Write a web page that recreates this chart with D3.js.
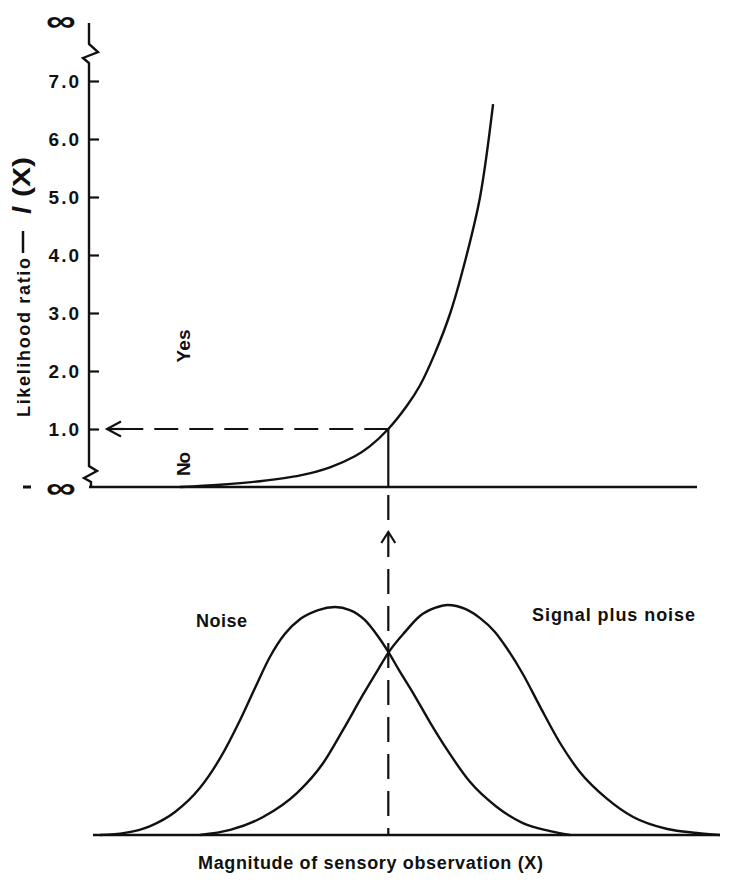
<!DOCTYPE html>
<html>
<head>
<meta charset="utf-8">
<script src="https://cdn.jsdelivr.net/npm/d3@7"></script>
<style>
  html, body { margin: 0; padding: 0; background: #fff; }
  svg { display: block; }
  text { font-family: "Liberation Sans", Arial, sans-serif; font-weight: bold; fill: #111; }
</style>
</head>
<body>
<svg id="chart" width="737" height="882"></svg>
<script>
// ---------------- data ----------------
// x: magnitude of sensory observation, arbitrary units 0..100
const lrX = [12.9, 19.4, 25.8, 32.3, 37.1, 41.1, 43.5, 46.5, 49.5, 51.6, 54.0, 56.5, 58.9, 61.3, 63.4];
const lrY = [0.00, 0.04, 0.10, 0.20, 0.34, 0.53, 0.70, 1.00, 1.40, 1.75, 2.30, 3.00, 3.90, 5.00, 6.60];

const noiseX = [0.0, 4.0, 8.1, 12.1, 16.1, 19.4, 22.6, 25.0, 27.4, 29.8, 32.3, 35.2, 37.9, 40.3, 42.7, 44.8, 46.5, 48.4, 50.5, 53.2, 56.0, 59.7, 64.0, 68.2, 72.6, 75.8];
const noiseY = [0.0, 0.009, 0.039, 0.100, 0.204, 0.335, 0.500, 0.639, 0.774, 0.874, 0.939, 0.978, 0.991, 0.978, 0.935, 0.865, 0.796, 0.709, 0.617, 0.491, 0.370, 0.230, 0.122, 0.052, 0.017, 0.0];

const signalX = [16.1, 21.0, 26.3, 31.8, 36.0, 39.2, 42.4, 44.8, 46.6, 49.2, 51.6, 54.0, 56.1, 58.9, 61.3, 63.7, 65.6, 68.2, 71.0, 74.2, 77.4, 81.8, 86.0, 91.5, 96.3, 100.0];
const signalY = [0.0, 0.022, 0.078, 0.183, 0.313, 0.457, 0.609, 0.717, 0.796, 0.883, 0.952, 0.987, 1.0, 0.983, 0.943, 0.883, 0.813, 0.700, 0.557, 0.400, 0.274, 0.157, 0.078, 0.026, 0.009, 0.0];

const criterionX = 46.5;   // where the two densities cross
const criterionLR = 1.0;   // likelihood ratio at the criterion

const tickValues = [1, 2, 3, 4, 5, 6, 7];
const tickLabels = ["1.0", "2.0", "3.0", "4.0", "5.0", "6.0", "7.0"];

const yLabel = "Likelihood ratio";
const xLabel = "Magnitude of sensory observation (X)";
const noiseLabel = "Noise";
const signalLabel = "Signal plus noise";

// ---------------- layout ----------------
const svg = d3.select("#chart");
const x = d3.scaleLinear().domain([0, 100]).range([100, 720]);
const yTop = d3.scaleLinear().domain([0, 7]).range([487, 81]);
const yBot = d3.scaleLinear().domain([0, 1]).range([835, 605]);

const axisX = 89;
const ink = "#111";
const lw = 2.4;

// ---------- top panel: y axis ----------
const yAxis = d3.axisLeft(yTop)
  .tickValues(tickValues)
  .tickFormat((d, i) => tickLabels[i])
  .tickSize(-10)
  .tickPadding(8);

const gAxis = svg.append("g").attr("transform", `translate(${axisX},0)`).call(yAxis);
gAxis.select(".domain").remove();
gAxis.selectAll(".tick line").attr("stroke", ink).attr("stroke-width", 2.2);
gAxis.selectAll(".tick text")
  .attr("font-family", "DejaVu Sans, sans-serif")
  .attr("font-weight", "normal")
  .attr("font-size", 19)
  .attr("fill", ink)
  .attr("dy", "0.55em")
  .attr("y", -4)
  .style("letter-spacing", "2px");

// axis line with breaks
svg.append("path")
  .attr("d", `M${axisX},23 L${axisX},44 L98,52 L83,58 L${axisX},63 L${axisX},466 L97,471 L84,478 L${axisX + 2},482 L${axisX + 2},487`)
  .attr("fill", "none").attr("stroke", ink).attr("stroke-width", lw).attr("stroke-linejoin", "miter");

// top baseline
svg.append("line").attr("x1", axisX).attr("x2", 697).attr("y1", yTop(0)).attr("y2", yTop(0))
  .attr("stroke", ink).attr("stroke-width", lw);

// infinity symbols
svg.append("text").attr("transform", "translate(61,31) scale(1.4,1)").attr("text-anchor", "middle")
  .attr("font-family", "DejaVu Sans, sans-serif").attr("font-size", 30).text("∞");
svg.append("text").attr("transform", `translate(61,${yTop(0) + 11}) scale(1.4,1)`).attr("text-anchor", "middle")
  .attr("font-family", "DejaVu Sans, sans-serif").attr("font-size", 30).text("∞");
svg.append("line").attr("x1", 23).attr("x2", 31).attr("y1", yTop(0)).attr("y2", yTop(0))
  .attr("stroke", ink).attr("stroke-width", 3);

// y label (rotated)
const yl = svg.append("g").attr("transform", "translate(30,0)");
yl.append("text").attr("transform", "translate(0,417) rotate(-90)")
  .attr("font-size", 18).attr("textLength", 159).attr("lengthAdjust", "spacing").text(yLabel);
yl.append("line").attr("x1", -7).attr("x2", -7).attr("y1", 231).attr("y2", 253)
  .attr("stroke", ink).attr("stroke-width", 2.5);
yl.append("text").attr("transform", "translate(1,214) rotate(-90)")
  .attr("font-family", "Liberation Serif, serif").attr("font-style", "italic").attr("font-weight", "normal")
  .attr("font-size", 26).text("l");
yl.append("text").attr("transform", "translate(0,197) rotate(-90)")
  .attr("font-weight", "normal").attr("font-size", 24).attr("textLength", 40).attr("lengthAdjust", "spacingAndGlyphs").text("(X)");

// Yes / No labels
svg.append("text").attr("transform", "translate(190,346) rotate(-90)").attr("text-anchor", "middle")
  .attr("font-size", 19).attr("textLength", 33).attr("lengthAdjust", "spacing").text("Yes");
svg.append("text").attr("transform", "translate(190,464) rotate(-90)").attr("text-anchor", "middle")
  .attr("font-size", 19).attr("textLength", 24).attr("lengthAdjust", "spacing").text("No");

// likelihood ratio curve
const lrData = lrX.map((d, i) => [d, lrY[i]]);
svg.append("path").datum(lrData)
  .attr("d", d3.line().x(d => x(d[0])).y(d => yTop(d[1])).curve(d3.curveCatmullRom.alpha(0.5)))
  .attr("fill", "none").attr("stroke", ink).attr("stroke-width", lw);

// ---------- bottom panel ----------
svg.append("line").attr("x1", 93).attr("x2", 720).attr("y1", yBot(0)).attr("y2", yBot(0))
  .attr("stroke", ink).attr("stroke-width", lw);

const dens = d3.line().x(d => x(d[0])).y(d => yBot(d[1])).curve(d3.curveMonotoneX);
svg.append("path").datum(noiseX.map((d, i) => [d, noiseY[i]]))
  .attr("d", dens).attr("fill", "none").attr("stroke", ink).attr("stroke-width", lw);
svg.append("path").datum(signalX.map((d, i) => [d, signalY[i]]))
  .attr("d", dens).attr("fill", "none").attr("stroke", ink).attr("stroke-width", lw);

svg.append("text").attr("x", 196).attr("y", 627).attr("font-size", 18)
  .attr("textLength", 51).attr("lengthAdjust", "spacing").text(noiseLabel);
svg.append("text").attr("x", 532).attr("y", 621).attr("font-size", 18)
  .attr("textLength", 163).attr("lengthAdjust", "spacing").text(signalLabel);
svg.append("text").attr("x", 198).attr("y", 869).attr("font-size", 18)
  .attr("textLength", 345).attr("lengthAdjust", "spacing").text(xLabel);

// ---------- criterion dashed lines & arrows ----------
const cx = x(criterionX), cy = yTop(criterionLR);
svg.append("line").attr("x1", cx).attr("x2", 108).attr("y1", cy).attr("y2", cy)
  .attr("stroke", ink).attr("stroke-width", 2.2).attr("stroke-dasharray", "24,11");
svg.append("path").attr("d", `M121,${cy - 7.5} L107,${cy} L121,${cy + 7.5}`)
  .attr("fill", "none").attr("stroke", ink).attr("stroke-width", 2.2);
svg.append("line").attr("x1", 107).attr("x2", 124).attr("y1", cy).attr("y2", cy)
  .attr("stroke", ink).attr("stroke-width", 2.2);
svg.append("line").attr("x1", cx).attr("x2", cx).attr("y1", cy).attr("y2", yTop(0))
  .attr("stroke", ink).attr("stroke-width", 2.2);
svg.append("line").attr("x1", cx).attr("x2", cx).attr("y1", 495).attr("y2", yBot(0))
  .attr("stroke", ink).attr("stroke-width", 2.2).attr("stroke-dasharray", "25,12");
svg.append("path").attr("d", `M${cx - 7},543 L${cx},532 L${cx + 7},543`)
  .attr("fill", "none").attr("stroke", ink).attr("stroke-width", 2.2);
</script>
</body>
</html>
